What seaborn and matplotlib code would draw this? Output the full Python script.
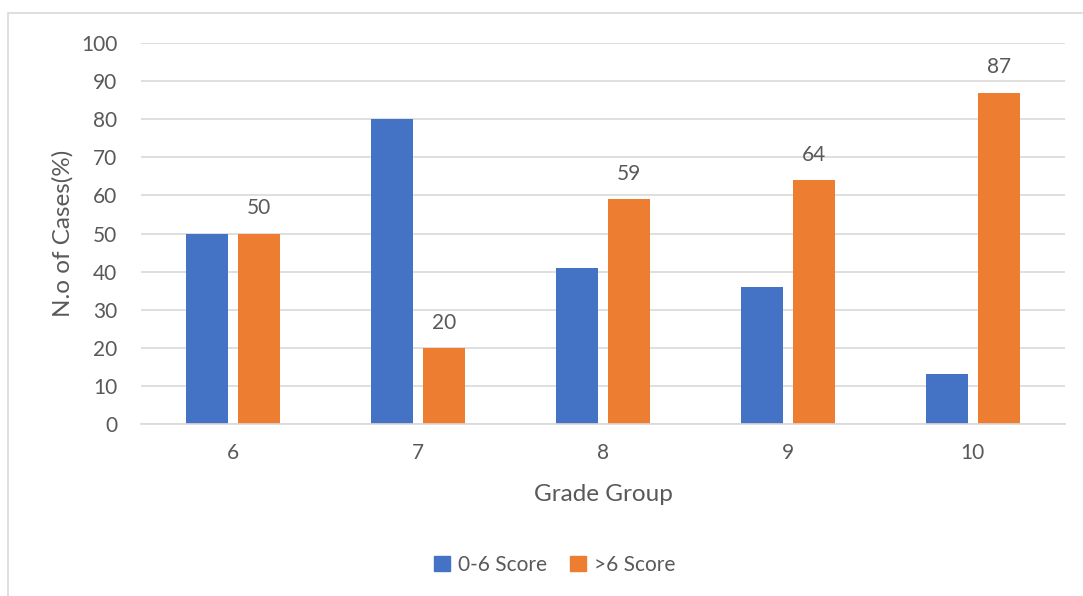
import matplotlib
matplotlib.use("Agg")
import matplotlib.pyplot as plt
import seaborn as sns
import pandas as pd
from matplotlib.patches import Rectangle

grades = ["6", "7", "8", "9", "10"]
low_score = [50, 80, 41, 36, 13]
high_score = [50, 20, 59, 64, 87]
series_names = ["0-6 Score", ">6 Score"]
colors = ["#4472C4", "#ED7D31"]

df = pd.DataFrame({
    "Grade": grades * 2,
    "Value": low_score + high_score,
    "Series": [series_names[0]] * len(grades) + [series_names[1]] * len(grades),
})

sns.set_theme(style="white")
plt.rcParams['font.family'] = ['Lato', 'DejaVu Sans']
txt = "#595959"

fig = plt.figure(figsize=(10.83, 5.96), dpi=100)
W, H = 1083, 596
ax = fig.add_axes([141 / W, 1 - 424 / H, (1065 - 141) / W, (424 - 43) / H])

sns.barplot(data=df, x="Grade", y="Value", hue="Series", order=grades,
            hue_order=series_names, palette=colors, width=0.562, gap=0.19,
            ax=ax, legend=False, saturation=1, linewidth=0)

ax.set_ylim(0, 100)
ax.set_xlim(-0.5, 4.5)
ax.set_yticks(range(0, 101, 10))
ax.yaxis.grid(True, color="#D9D9D9", linewidth=1.2)
ax.set_axisbelow(True)
for s in ["top", "right", "left"]:
    ax.spines[s].set_visible(False)
ax.spines["bottom"].set_color("#D9D9D9")
ax.spines["bottom"].set_linewidth(1.2)
ax.tick_params(axis="both", length=0, labelsize=15, colors=txt)
ax.tick_params(axis="y", pad=17)
ax.tick_params(axis="x", pad=14)
ax.set_xlabel("Grade Group", fontsize=17.5, color=txt, labelpad=15)
ax.set_ylabel("N.o of Cases(%)", fontsize=17.5, color=txt, labelpad=5.5)

# labels on the orange bars only
orange = ax.containers[1]
ax.bar_label(orange, labels=[str(v) for v in high_score], padding=11,
             fontsize=15, color=txt)

# legend
handles = [Rectangle((0, 0), 1, 1, color=c) for c in colors]
fig.legend(handles, series_names, loc="center", bbox_to_anchor=(555 / W, 1 - 565 / H),
           ncol=2, frameon=False, fontsize=15, labelcolor=txt, handlelength=0.75,
           handleheight=0.75, handletextpad=0.4, columnspacing=1.1)

# chart border (partially visible)
fig.patches.append(Rectangle((8 / W, -0.1), 1.2, 1 - 13 / H + 0.1, transform=fig.transFigure,
                             fill=False, edgecolor="#D9D9D9", linewidth=1.2))

fig.savefig("out.png", dpi=100)
